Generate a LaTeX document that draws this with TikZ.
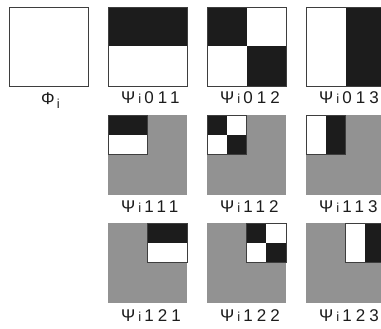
\documentclass[tikz,border=0pt]{standalone}
\usepackage{fontspec}
\setmainfont{Liberation Sans}
\newcommand\patH[3]{%
  \fill[blk] (#1,#2) rectangle ++(#3,#3/2);
  \fill[white] (#1,#2+#3/2) rectangle ++(#3,#3/2);
  \draw[frame] (#1,#2) rectangle ++(#3,#3);}
\newcommand\patC[3]{%
  \fill[white] (#1,#2) rectangle ++(#3,#3);
  \fill[blk] (#1,#2) rectangle ++(#3/2,#3/2);
  \fill[blk] (#1+#3/2,#2+#3/2) rectangle ++(#3/2,#3/2);
  \draw[frame] (#1,#2) rectangle ++(#3,#3);}
\newcommand\patV[3]{%
  \fill[white] (#1,#2) rectangle ++(#3/2,#3);
  \fill[blk] (#1+#3/2,#2) rectangle ++(#3/2,#3);
  \draw[frame] (#1,#2) rectangle ++(#3,#3);}
\newcommand\psilbl[1]{Ψ\hspace{3pt}{\fontsize{13}{13}\selectfont i}\hspace{3pt}\addfontfeatures{LetterSpace=24}#1}
\begin{document}
\begin{tikzpicture}[x=1pt,y=-1pt]
\definecolor{blk}{HTML}{1C1C1C}
\definecolor{gry}{HTML}{929292}
\tikzset{
  frame/.style={draw=blk!85, line width=0.6pt},
  graysq/.style={fill=gry},
  lbl/.style={anchor=base west, font=\fontsize{17}{17}\selectfont, inner sep=0pt, text=blk}
}
\useasboundingbox (0,0) rectangle (381,329);
\clip (0,0) rectangle (381,329);
% row 1
\fill[white] (9,7) rectangle ++(79,79);
\draw[frame] (9,7) rectangle ++(79,79);
\patH{108}{7}{79}
\patC{207}{7}{79}
\patV{306}{7}{79}
% row 2
\fill[graysq] (108,115) rectangle ++(79,80);
\patH{108}{115}{39.5}
\fill[graysq] (207,115) rectangle ++(79,80);
\patC{207}{115}{39.5}
\fill[graysq] (306,115) rectangle ++(79,80);
\patV{306}{115}{39.5}
% row 3
\fill[graysq] (108,223) rectangle ++(79,80);
\patH{147.5}{223}{39.5}
\fill[graysq] (207,223) rectangle ++(79,80);
\patC{246.5}{223}{39.5}
\fill[graysq] (306,223) rectangle ++(79,80);
\patV{345.5}{223}{39.5}
% labels
\node[lbl] (phi) at (41,105) {Φ\hspace{2pt}\raisebox{-4pt}{\fontsize{13}{13}\selectfont i}};
\node[lbl] (l011) at (121,104) {\psilbl{011}};
\node[lbl] (l012) at (220,104) {\psilbl{012}};
\node[lbl] (l013) at (319,104) {\psilbl{013}};
\node[lbl] (l111) at (121,213) {\psilbl{111}};
\node[lbl] (l112) at (220,213) {\psilbl{112}};
\node[lbl] (l113) at (319,213) {\psilbl{113}};
\node[lbl] (l121) at (121,321) {\psilbl{121}};
\node[lbl] (l122) at (220,321) {\psilbl{122}};
\node[lbl] (l123) at (319,321) {\psilbl{123}};
\end{tikzpicture}
\end{document}
